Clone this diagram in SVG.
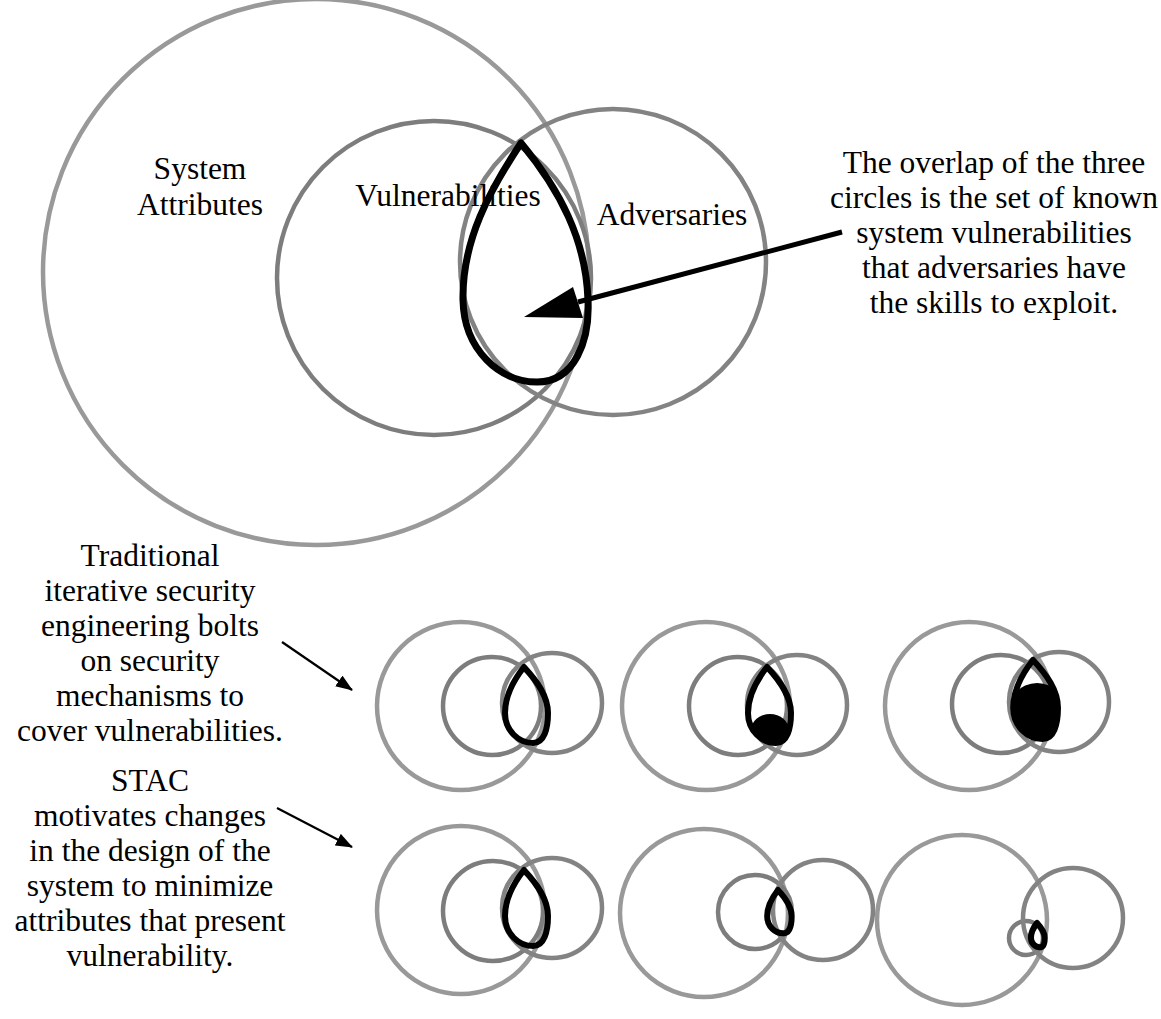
<svg xmlns="http://www.w3.org/2000/svg" width="1161" height="1019" viewBox="0 0 1161 1019">
<style>
.sys{fill:none;stroke:#999;stroke-width:4.5}
.vul{fill:none;stroke:#7d7d7d;stroke-width:4.5}
.adv{fill:none;stroke:#838383;stroke-width:4.5}
.drop{fill:none;stroke:#000;stroke-width:6;stroke-linejoin:round}
text{font-family:"Liberation Serif","Times New Roman",serif;font-size:31.5px;fill:#000;text-anchor:middle}
.conn{stroke:#000;fill:none}
</style>
<defs>
<path id="dropShape" d="M0,0 C-11,14 -19,30 -19,46 C-19,64 -5,76 9,76 C20,76 24,62 24,46 C24,29 13,14 0,0 Z"/>
<clipPath id="dropClip"><use href="#dropShape"/></clipPath>
<marker id="ah" markerUnits="userSpaceOnUse" markerWidth="17" markerHeight="13" viewBox="0 0 17 13" refX="16" refY="6.5" orient="auto">
<path d="M0,0 L17,6.5 L0,13 Z" fill="#000"/>
</marker>
</defs>
<rect width="1161" height="1019" fill="#fff"/>

<g id="main-venn">
<circle class="sys" cx="316" cy="272" r="273"/>
<circle class="vul" cx="434" cy="278" r="157"/>
<circle class="adv" cx="613" cy="262" r="153"/>
<text x="200" y="179">System</text>
<text x="200" y="215">Attributes</text>
<text x="448" y="206">Vulnerabilities</text>
<text x="672" y="225">Adversaries</text>
<path class="drop" style="stroke-width:7" d="M521,143 C490,190 462,240 463,300 C464,350 500,382 537,382 C575,382 590,340 588,300 C586,240 560,190 521,143 Z"/>
</g>

<g id="note-overlap">
<text x="994" y="173">The overlap of the three</text>
<text x="994" y="208">circles is the set of known</text>
<text x="994" y="243">system vulnerabilities</text>
<text x="994" y="278">that adversaries have</text>
<text x="994" y="313">the skills to exploit.</text>
</g>

<g id="note-traditional">
<text x="150" y="566">Traditional</text>
<text x="150" y="601">iterative security</text>
<text x="150" y="636">engineering bolts</text>
<text x="150" y="671">on security</text>
<text x="150" y="706">mechanisms to</text>
<text x="150" y="741">cover vulnerabilities.</text>
</g>

<g id="note-stac">
<text x="150" y="791">STAC</text>
<text x="150" y="826">motivates changes</text>
<text x="150" y="861">in the design of the</text>
<text x="150" y="896">system to minimize</text>
<text x="150" y="931">attributes that present</text>
<text x="150" y="966">vulnerability.</text>
</g>

<g id="trad-1">
<circle class="sys" cx="461" cy="706" r="84"/>
<circle class="vul" cx="492" cy="706" r="49"/>
<circle class="adv" cx="552" cy="703" r="50"/>
<g transform="translate(524,667)"><use href="#dropShape" class="drop"/></g>
</g>
<g id="trad-2">
<circle class="sys" cx="706" cy="706" r="84"/>
<circle class="vul" cx="738" cy="706" r="49"/>
<circle class="adv" cx="797" cy="705" r="50"/>
<g transform="translate(767,667)"><ellipse cx="3" cy="63" rx="19" ry="16" fill="#000" clip-path="url(#dropClip)"/><use href="#dropShape" class="drop"/></g>
</g>
<g id="trad-3">
<circle class="sys" cx="969" cy="706" r="84"/>
<circle class="vul" cx="1001" cy="704" r="49"/>
<circle class="adv" cx="1059" cy="702" r="50"/>
<g transform="translate(1033,660) scale(1.04)"><ellipse cx="4" cy="55" rx="30" ry="33" fill="#000" clip-path="url(#dropClip)"/><use href="#dropShape" class="drop" style="stroke-width:5.8"/></g>
</g>

<g id="stac-1">
<circle class="sys" cx="461" cy="910" r="84"/>
<circle class="vul" cx="493" cy="911" r="50"/>
<circle class="adv" cx="552" cy="908" r="50"/>
<g transform="translate(524,870)"><use href="#dropShape" class="drop"/></g>
</g>
<g id="stac-2">
<circle class="sys" cx="704" cy="913" r="84"/>
<circle class="vul" cx="755" cy="912" r="37"/>
<circle class="adv" cx="823" cy="910" r="50"/>
<g transform="translate(778,890) scale(0.57)"><use href="#dropShape" class="drop" style="stroke-width:10.5"/></g>
</g>
<g id="stac-3">
<circle class="sys" cx="962" cy="920" r="85"/>
<circle class="vul" cx="1026" cy="938" r="17"/>
<circle class="adv" cx="1073" cy="918" r="50"/>
<g transform="translate(1037,923) scale(0.32)"><use href="#dropShape" class="drop" style="stroke-width:19"/></g>
</g>

<g id="connectors">
<line class="conn" x1="842" y1="232" x2="578" y2="302" stroke-width="5"/>
<polygon points="524,317 573,287 583,318" fill="#000"/>
<line class="conn" x1="282" y1="642" x2="352" y2="690" stroke-width="2.2" marker-end="url(#ah)"/>
<line class="conn" x1="277" y1="808" x2="352" y2="847" stroke-width="2.2" marker-end="url(#ah)"/>
</g>
</svg>
